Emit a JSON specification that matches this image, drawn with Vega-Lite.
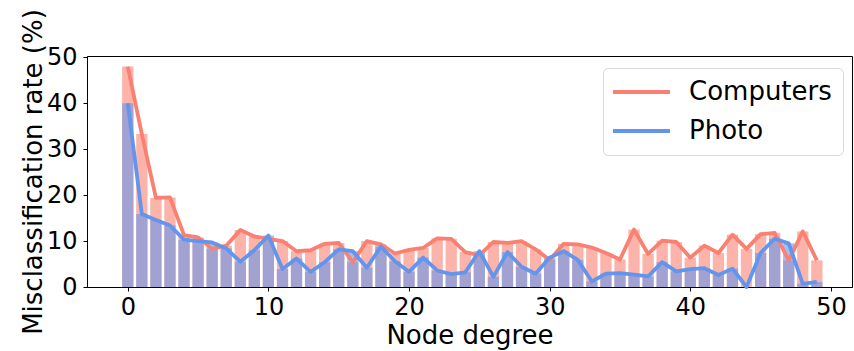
{
  "$schema": "https://vega.github.io/schema/vega-lite/v6.json",
  "width": 765,
  "height": 231,
  "autosize": {"type": "none"},
  "padding": {"left": 87, "top": 56, "right": 2, "bottom": 64},
  "background": "white",
  "config": {
    "font": "DejaVu Sans",
    "view": {"stroke": "#000", "strokeWidth": 1},
    "axis": {
      "grid": false,
      "domainColor": "#000",
      "tickColor": "#000",
      "labelColor": "#000",
      "titleColor": "#000",
      "labelFont": "DejaVu Sans",
      "titleFont": "DejaVu Sans",
      "titleFontWeight": "normal",
      "labelFontSize": 24,
      "titleFontSize": 26,
      "tickSize": 4
    }
  },
  "data": {
    "values": [
      {"degree": 0, "dataset": "Computers", "rate": 48.0},
      {"degree": 1, "dataset": "Computers", "rate": 33.3},
      {"degree": 2, "dataset": "Computers", "rate": 19.4},
      {"degree": 3, "dataset": "Computers", "rate": 19.5},
      {"degree": 4, "dataset": "Computers", "rate": 11.3},
      {"degree": 5, "dataset": "Computers", "rate": 10.8},
      {"degree": 6, "dataset": "Computers", "rate": 8.3},
      {"degree": 7, "dataset": "Computers", "rate": 9.0},
      {"degree": 8, "dataset": "Computers", "rate": 12.4},
      {"degree": 9, "dataset": "Computers", "rate": 11.0},
      {"degree": 10, "dataset": "Computers", "rate": 10.5},
      {"degree": 11, "dataset": "Computers", "rate": 10.0},
      {"degree": 12, "dataset": "Computers", "rate": 7.8},
      {"degree": 13, "dataset": "Computers", "rate": 8.0},
      {"degree": 14, "dataset": "Computers", "rate": 9.4},
      {"degree": 15, "dataset": "Computers", "rate": 9.6},
      {"degree": 16, "dataset": "Computers", "rate": 5.4},
      {"degree": 17, "dataset": "Computers", "rate": 10.0},
      {"degree": 18, "dataset": "Computers", "rate": 9.3},
      {"degree": 19, "dataset": "Computers", "rate": 7.3},
      {"degree": 20, "dataset": "Computers", "rate": 8.1},
      {"degree": 21, "dataset": "Computers", "rate": 8.5},
      {"degree": 22, "dataset": "Computers", "rate": 10.6},
      {"degree": 23, "dataset": "Computers", "rate": 10.5},
      {"degree": 24, "dataset": "Computers", "rate": 7.6},
      {"degree": 25, "dataset": "Computers", "rate": 6.9},
      {"degree": 26, "dataset": "Computers", "rate": 9.8},
      {"degree": 27, "dataset": "Computers", "rate": 9.6},
      {"degree": 28, "dataset": "Computers", "rate": 10.0},
      {"degree": 29, "dataset": "Computers", "rate": 8.2},
      {"degree": 30, "dataset": "Computers", "rate": 5.9},
      {"degree": 31, "dataset": "Computers", "rate": 9.4},
      {"degree": 32, "dataset": "Computers", "rate": 9.3},
      {"degree": 33, "dataset": "Computers", "rate": 8.6},
      {"degree": 34, "dataset": "Computers", "rate": 7.4},
      {"degree": 35, "dataset": "Computers", "rate": 6.0},
      {"degree": 36, "dataset": "Computers", "rate": 12.5},
      {"degree": 37, "dataset": "Computers", "rate": 7.2},
      {"degree": 38, "dataset": "Computers", "rate": 10.1},
      {"degree": 39, "dataset": "Computers", "rate": 9.8},
      {"degree": 40, "dataset": "Computers", "rate": 6.4},
      {"degree": 41, "dataset": "Computers", "rate": 9.0},
      {"degree": 42, "dataset": "Computers", "rate": 7.4},
      {"degree": 43, "dataset": "Computers", "rate": 11.4},
      {"degree": 44, "dataset": "Computers", "rate": 8.3},
      {"degree": 45, "dataset": "Computers", "rate": 11.5},
      {"degree": 46, "dataset": "Computers", "rate": 11.8},
      {"degree": 47, "dataset": "Computers", "rate": 5.8},
      {"degree": 48, "dataset": "Computers", "rate": 12.1},
      {"degree": 49, "dataset": "Computers", "rate": 5.8},
      {"degree": 0, "dataset": "Photo", "rate": 40.0},
      {"degree": 1, "dataset": "Photo", "rate": 15.9},
      {"degree": 2, "dataset": "Photo", "rate": 14.6},
      {"degree": 3, "dataset": "Photo", "rate": 13.4},
      {"degree": 4, "dataset": "Photo", "rate": 10.3},
      {"degree": 5, "dataset": "Photo", "rate": 10.0},
      {"degree": 6, "dataset": "Photo", "rate": 9.7},
      {"degree": 7, "dataset": "Photo", "rate": 8.4},
      {"degree": 8, "dataset": "Photo", "rate": 5.5},
      {"degree": 9, "dataset": "Photo", "rate": 8.0},
      {"degree": 10, "dataset": "Photo", "rate": 11.2},
      {"degree": 11, "dataset": "Photo", "rate": 3.9},
      {"degree": 12, "dataset": "Photo", "rate": 6.2},
      {"degree": 13, "dataset": "Photo", "rate": 3.3},
      {"degree": 14, "dataset": "Photo", "rate": 5.4},
      {"degree": 15, "dataset": "Photo", "rate": 8.2},
      {"degree": 16, "dataset": "Photo", "rate": 7.8},
      {"degree": 17, "dataset": "Photo", "rate": 4.2},
      {"degree": 18, "dataset": "Photo", "rate": 8.8},
      {"degree": 19, "dataset": "Photo", "rate": 5.6},
      {"degree": 20, "dataset": "Photo", "rate": 3.3},
      {"degree": 21, "dataset": "Photo", "rate": 6.4},
      {"degree": 22, "dataset": "Photo", "rate": 3.6},
      {"degree": 23, "dataset": "Photo", "rate": 2.8},
      {"degree": 24, "dataset": "Photo", "rate": 3.2},
      {"degree": 25, "dataset": "Photo", "rate": 7.8},
      {"degree": 26, "dataset": "Photo", "rate": 2.2},
      {"degree": 27, "dataset": "Photo", "rate": 7.6},
      {"degree": 28, "dataset": "Photo", "rate": 4.4},
      {"degree": 29, "dataset": "Photo", "rate": 2.9},
      {"degree": 30, "dataset": "Photo", "rate": 6.4},
      {"degree": 31, "dataset": "Photo", "rate": 7.8},
      {"degree": 32, "dataset": "Photo", "rate": 5.9},
      {"degree": 33, "dataset": "Photo", "rate": 1.2},
      {"degree": 34, "dataset": "Photo", "rate": 2.9},
      {"degree": 35, "dataset": "Photo", "rate": 3.0},
      {"degree": 36, "dataset": "Photo", "rate": 2.7},
      {"degree": 37, "dataset": "Photo", "rate": 2.3},
      {"degree": 38, "dataset": "Photo", "rate": 5.4},
      {"degree": 39, "dataset": "Photo", "rate": 3.4},
      {"degree": 40, "dataset": "Photo", "rate": 3.9},
      {"degree": 41, "dataset": "Photo", "rate": 4.1},
      {"degree": 42, "dataset": "Photo", "rate": 2.6},
      {"degree": 43, "dataset": "Photo", "rate": 4.0},
      {"degree": 44, "dataset": "Photo", "rate": 0.0},
      {"degree": 45, "dataset": "Photo", "rate": 7.4},
      {"degree": 46, "dataset": "Photo", "rate": 10.5},
      {"degree": 47, "dataset": "Photo", "rate": 9.5},
      {"degree": 48, "dataset": "Photo", "rate": 0.7},
      {"degree": 49, "dataset": "Photo", "rate": 1.1}
    ]
  },
  "encoding": {
    "x": {
      "field": "degree",
      "type": "quantitative",
      "title": "Node degree",
      "scale": {"domain": [-2.9, 51.5], "nice": false, "zero": false, "padding": 0},
      "axis": {"values": [0, 10, 20, 30, 40, 50], "labelPadding": 4, "titlePadding": 3}
    },
    "y": {
      "field": "rate",
      "type": "quantitative",
      "title": "Misclassification rate (%)",
      "stack": null,
      "scale": {"domain": [0, 50.3], "nice": false, "padding": 0},
      "axis": {"values": [0, 10, 20, 30, 40, 50], "labelPadding": 6, "titlePadding": 0}
    }
  },
  "layer": [
    {
      "mark": {"type": "bar", "size": 11.3, "opacity": 0.6},
      "encoding": {
        "color": {
          "field": "dataset",
          "type": "nominal",
          "scale": {"domain": ["Computers", "Photo"], "range": ["#fa8072", "#6495ed"]},
          "legend": null
        }
      }
    },
    {
      "mark": {"type": "line", "strokeWidth": 3.8, "strokeJoin": "round"},
      "encoding": {
        "color": {
          "field": "dataset",
          "type": "nominal",
          "scale": {"domain": ["Computers", "Photo"], "range": ["#fa8072", "#6495ed"]},
          "legend": {
            "orient": "none",
            "legendX": 516,
            "legendY": 12,
            "title": null,
            "symbolType": "M-1.4,0H4.3",
            "symbolStrokeWidth": 4,
            "symbolSize": 400,
            "labelFont": "DejaVu Sans",
            "labelFontSize": 26,
            "labelColor": "#000",
            "labelOffset": 49,
            "rowPadding": 13,
            "padding": 11,
            "strokeColor": "#d9d9d9",
            "fillColor": "white",
            "cornerRadius": 5
          }
        }
      }
    }
  ],
  "resolve": {"legend": {"color": "independent"}}
}
